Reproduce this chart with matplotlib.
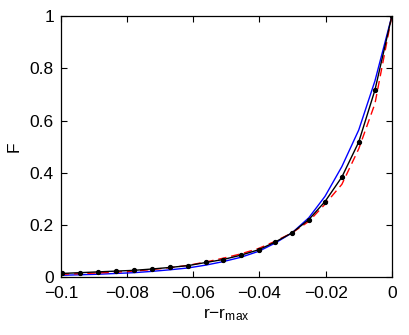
import numpy as np
import matplotlib
matplotlib.use("Agg")
import matplotlib.pyplot as plt

plt.rcParams['font.family'] = ['Liberation Sans', 'DejaVu Sans']
plt.rcParams['mathtext.fontset'] = 'custom'
plt.rcParams['mathtext.rm'] = 'Liberation Sans'

# values
x_pts = [-0.0997, -0.0943, -0.0888, -0.0834, -0.0779, -0.0725, -0.0671, -0.0616,
         -0.0562, -0.0511, -0.0456, -0.0402, -0.0353, -0.0302, -0.0251, -0.0202,
         -0.0151, -0.0100, -0.0051, 0.0]
f_black = [0.015, 0.018, 0.021, 0.024, 0.027, 0.032, 0.038, 0.045,
           0.057, 0.068, 0.085, 0.106, 0.135, 0.170, 0.221, 0.290,
           0.384, 0.518, 0.717, 1.0]
x_line = [-0.1, -0.0943, -0.0888, -0.0834, -0.0779, -0.0725, -0.0671, -0.0616,
          -0.0562, -0.0511, -0.0456, -0.0402, -0.0353, -0.0302, -0.0251, -0.0202,
          -0.0151, -0.0100, -0.0051, 0.0]
f_blue = [0.008, 0.010, 0.012, 0.015, 0.018, 0.023, 0.029, 0.036,
          0.047, 0.060, 0.077, 0.100, 0.131, 0.170, 0.228, 0.310,
          0.424, 0.564, 0.752, 1.0]
f_red = [0.012, 0.014, 0.017, 0.020, 0.024, 0.030, 0.037, 0.046,
         0.059, 0.073, 0.090, 0.111, 0.138, 0.170, 0.214, 0.280,
         0.356, 0.492, 0.665, 1.0]

x_ticks = [-0.1, -0.08, -0.06, -0.04, -0.02, 0]
x_labels = ['\u22120.1', '\u22120.08', '\u22120.06', '\u22120.04', '\u22120.02', '0']
y_ticks = [0, 0.2, 0.4, 0.6, 0.8, 1]
y_labels = ['0', '0.2', '0.4', '0.6', '0.8', '1']

fig = plt.figure(figsize=(4.09, 3.35), dpi=100)
ax = fig.add_axes([0.149, 0.172, 0.809, 0.78])

ax.plot(x_line, f_blue, color='#0000ff', lw=1.0)
ax.plot(x_line, f_red, color='#ff0000', lw=1.0, dashes=(6, 3.5))
ax.plot(x_pts, f_black, color='black', lw=1.0, marker='o', ms=2.8)

ax.set_xlim(-0.1, 0)
ax.set_ylim(0, 1)
ax.set_xticks(x_ticks)
ax.set_xticklabels(x_labels)
ax.set_yticks(y_ticks)
ax.set_yticklabels(y_labels)
ax.tick_params(direction='in', length=4, width=0.8, labelsize=12.5,
               top=True, right=True)
ax.tick_params(axis='x', pad=6)
ax.tick_params(axis='y', pad=5)
for s in ax.spines.values():
    s.set_linewidth(0.9)

ax.set_xlabel(r'$\mathregular{r{-}r_{max}}$', fontsize=12.5, labelpad=4)
ax.set_ylabel('F', fontsize=12.5, labelpad=6)

fig.savefig('out.png', dpi=100)
